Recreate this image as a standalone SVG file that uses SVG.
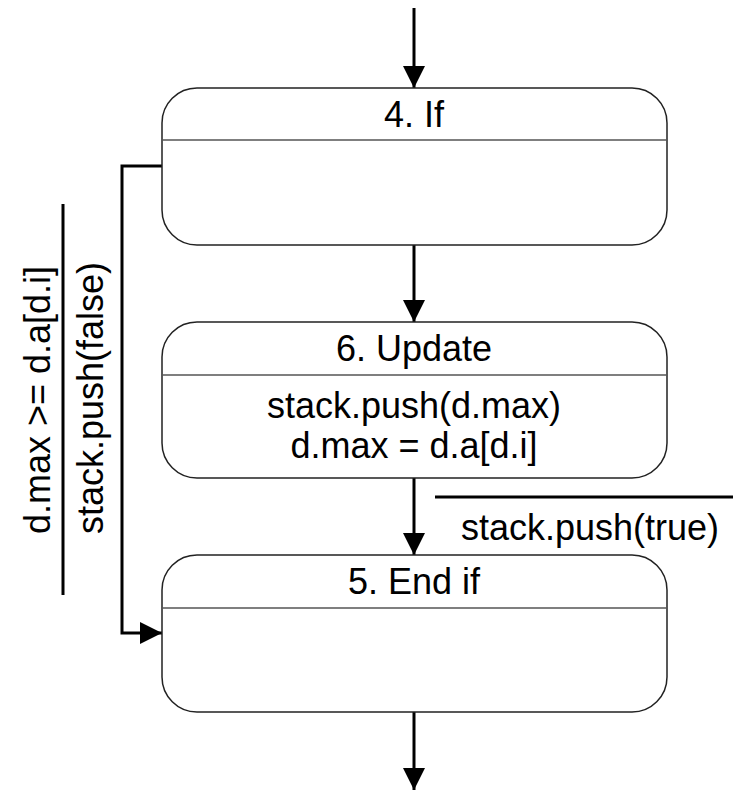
<svg xmlns="http://www.w3.org/2000/svg" width="733" height="790" viewBox="0 0 733 790">
<style>
.box{fill:#fff;stroke:#222;stroke-width:1.5}
.div{stroke:#555;stroke-width:1.5}
.t{font-family:"Liberation Sans",Arial,sans-serif;font-size:36px;fill:#000;text-anchor:middle}
.c{fill:none;stroke:#000;stroke-width:3}
</style>
<defs>
<marker id="ah" markerUnits="userSpaceOnUse" markerWidth="24" markerHeight="24" viewBox="0 0 24 24" refX="22" refY="12" orient="auto">
<path d="M0,1 L22,12 L0,23 Z" fill="#000"/>
</marker>
</defs>
<rect width="733" height="790" fill="#fff"/>
<g id="connectors">
<line class="c" x1="414" y1="8" x2="414" y2="88" marker-end="url(#ah)"/>
<line class="c" x1="414" y1="245" x2="414" y2="322" marker-end="url(#ah)"/>
<line class="c" x1="414" y1="478" x2="414" y2="555" marker-end="url(#ah)"/>
<line class="c" x1="414" y1="712" x2="414" y2="790" marker-end="url(#ah)"/>
<polyline class="c" points="162,166 122,166 122,633 162,633" marker-end="url(#ah)"/>
<line stroke="#000" stroke-width="3" x1="435" y1="497" x2="733" y2="497"/>
<text class="t" x="590" y="540">stack.push(true)</text>
<line stroke="#000" stroke-width="3" x1="63" y1="204" x2="63" y2="595"/>
<text class="t" transform="translate(50,400) rotate(-90)">d.max &gt;= d.a[d.i]</text>
<text class="t" transform="translate(103,398) rotate(-90)">stack.push(false)</text>
</g>
<g id="node4">
<rect class="box" x="162" y="88" width="505" height="157" rx="35"/>
<line class="div" x1="162" y1="140" x2="667" y2="140"/>
<text class="t" x="414" y="127">4. If</text>
</g>
<g id="node6">
<rect class="box" x="162" y="322" width="505" height="156" rx="35"/>
<line class="div" x1="162" y1="375" x2="667" y2="375"/>
<text class="t" x="414" y="361">6. Update</text>
<text class="t" x="414" y="418">stack.push(d.max)</text>
<text class="t" x="414" y="458">d.max = d.a[d.i]</text>
</g>
<g id="node5">
<rect class="box" x="162" y="555" width="505" height="157" rx="35"/>
<line class="div" x1="162" y1="608" x2="667" y2="608"/>
<text class="t" x="414" y="594">5. End if</text>
</g>
</svg>
